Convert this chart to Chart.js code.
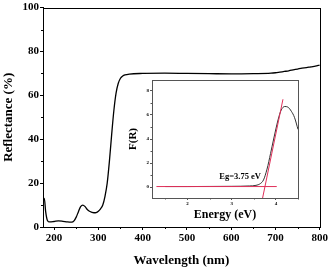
<!DOCTYPE html>
<html><head><meta charset="utf-8">
<script src="https://cdn.jsdelivr.net/npm/chart.js@4"></script>
<style>
html,body{margin:0;padding:0;background:#fff;}
#wrap{position:relative;width:330px;height:271px;}
#main{position:absolute;left:0;top:0;}
#inset{position:absolute;left:120px;top:70px;}
</style></head>
<body><div id="wrap"><canvas id="main" width="330" height="271"></canvas><canvas id="inset" width="190" height="160"></canvas></div>
<script>
// Main spectrum
const wavelength = [175,178,181,185,190,200,210,220,230,240,245,250,255,260,265,270,275,280,290,295,300,305,310,315,320,325,330,335,340,345,350,355,360,370,400,450,500,550,600,650,690,700,710,720,730,740,750,760,770,780,790,800];
const reflectance = [12,13,7,3,2.3,2.5,2.8,2.6,2.3,2.2,2.8,4.5,7,9.3,10,9.3,8,7.2,6.5,6.6,7.2,8.3,10,14,20,30,42,53,61,65.5,67.8,68.8,69.3,69.7,70.0,70.1,70.0,69.9,69.8,69.9,70.1,70.3,70.6,70.9,71.2,71.6,72.0,72.4,72.6,73.0,73.3,73.8];
const xTicksMain = [200,300,400,500,600,700,800];
const yTicksMain = [0,20,40,60,80,100];
// Inset Kubelka-Munk
const energy = [1.5,2.0,2.5,3.0,3.4,3.55,3.65,3.72,3.8,3.88,3.95,4.05,4.12,4.2,4.27,4.35,4.42,4.5];
const fR = [0.05,0.05,0.06,0.07,0.1,0.15,0.3,0.6,1.5,2.8,4.0,5.6,6.4,6.7,6.65,6.3,5.8,4.8];
const fitX = [3.70,4.16];
const fitY = [-0.9,7.3];
const baseX = [1.3,4.02];
const baseY = [0.05,0.05];
const xTicksInset = [2,3,4];
const yTicksInset = [0,2,4,6,8];
const egLabel = 'Eg=3.75 eV';

const SERIF = '"Liberation Serif","Times New Roman",serif';
const pts = (xs, ys) => xs.map((x, i) => ({x, y: ys[i]}));
const setTicks = arr => s => { s.ticks = arr.map(v => ({value: v})); };
const shiftTitle = (s, dx, dy) => {
  if (s._shiftPatched) return;
  const orig = s._drawTitle;
  s._drawTitle = function () { this.ctx.save(); this.ctx.translate(dx, dy); orig.call(this); this.ctx.restore(); };
  s._shiftPatched = true;
};

const frame = {
  id: 'frame',
  afterDraw(c, a, o) {
    const {ctx, chartArea: ca} = c;
    ctx.save();
    ctx.strokeStyle = o.color; ctx.lineWidth = 1;
    ctx.strokeRect(Math.round(ca.left) + 0.5, Math.round(ca.top) + 0.5, Math.round(ca.right - ca.left), Math.round(ca.bottom - ca.top));
    const xs = c.scales.x, ys = c.scales.y;
    ctx.beginPath();
    (o.xMinor || []).forEach(v => { const p = Math.round(xs.getPixelForValue(v)) + 0.5; ctx.moveTo(p, ca.bottom); ctx.lineTo(p, ca.bottom + o.minorLen); });
    (o.yMinor || []).forEach(v => { const p = Math.round(ys.getPixelForValue(v)) + 0.5; ctx.moveTo(ca.left, p); ctx.lineTo(ca.left - o.minorLen, p); });
    ctx.stroke();
    if (o.label) {
      ctx.fillStyle = '#000';
      ctx.font = o.label.font;
      ctx.textBaseline = 'middle';
      ctx.fillText(o.label.text, xs.getPixelForValue(o.label.x), ys.getPixelForValue(o.label.y));
    }
    ctx.restore();
  },
  beforeDraw(c, a, o) {
    if (o.bg) { const {ctx, chartArea: ca} = c; ctx.save(); ctx.fillStyle = o.bg; ctx.fillRect(ca.left, ca.top, ca.right - ca.left, ca.bottom - ca.top); ctx.restore(); }
  }
};

new Chart(document.getElementById('main'), {
  type: 'line',
  data: {datasets: [{data: pts(wavelength, reflectance), borderColor: '#000', borderWidth: 1.3, pointRadius: 0, cubicInterpolationMode: 'monotone'}]},
  options: {
    responsive: false, animation: false, devicePixelRatio: 1,
    layout: {padding: {top: 7, right: 10, left: 0, bottom: 0}},
    plugins: {legend: {display: false}, tooltip: {enabled: false},
      frame: {color: '#000', minorLen: 2, xMinor: [250,350,450,550,650,750], yMinor: [10,30,50,70,90]}},
    scales: {
      x: {type: 'linear', min: 175, max: 800,
        afterBuildTicks: setTicks(xTicksMain), afterFit: s => { s.height = 44; shiftTitle(s, 8, 0); },
        grid: {drawOnChartArea: false, tickLength: 3, color: '#000'}, border: {color: '#000'},
        ticks: {color: '#000', padding: 2, maxRotation: 0, font: {family: SERIF, size: 11, weight: 'bold'}},
        title: {display: true, text: 'Wavelength (nm)', color: '#000', padding: {top: 0, bottom: 3}, font: {family: SERIF, size: 13, weight: 'bold'}}},
      y: {min: 0, max: 100,
        afterBuildTicks: setTicks(yTicksMain), afterFit: s => { s.width = 43; shiftTitle(s, 0, -3); },
        grid: {drawOnChartArea: false, tickLength: 3, color: '#000'}, border: {color: '#000'},
        ticks: {color: '#000', padding: 1, font: {family: SERIF, size: 11, weight: 'bold'}},
        title: {display: true, text: 'Reflectance (%)', color: '#000', padding: {top: 1, bottom: 0}, font: {family: SERIF, size: 13, weight: 'bold'}}}
    }
  },
  plugins: [frame]
});

new Chart(document.getElementById('inset'), {
  type: 'line',
  data: {datasets: [
    {data: pts(baseX, baseY), borderColor: '#e0305a', borderWidth: 1, pointRadius: 0},
    {data: pts(fitX, fitY), borderColor: '#e0305a', borderWidth: 1, pointRadius: 0},
    {data: pts(energy, fR), borderColor: '#333', borderWidth: 1, pointRadius: 0, cubicInterpolationMode: 'monotone'}
  ]},
  options: {
    responsive: false, animation: false, devicePixelRatio: 1,
    layout: {padding: {top: 10, right: 12, left: 0, bottom: 0}},
    plugins: {legend: {display: false}, tooltip: {enabled: false},
      frame: {color: '#555', bg: '#fff', minorLen: 1.5, xMinor: [1.5,2.5,3.5,4.5], yMinor: [1,3,5,7],
        label: {text: egLabel, x: 2.72, y: 0.85, font: 'bold 8.5px ' + SERIF}}},
    scales: {
      x: {type: 'linear', min: 1.2, max: 4.5,
        afterBuildTicks: setTicks(xTicksInset), afterFit: s => { s.height = 32; },
        grid: {drawOnChartArea: false, tickLength: 2, color: '#555'}, border: {color: '#555'},
        ticks: {color: '#000', padding: 1, maxRotation: 0, font: {family: SERIF, size: 5, weight: 'bold'}},
        title: {display: true, text: 'Energy (eV)', color: '#000', padding: {top: 0, bottom: 8}, font: {family: SERIF, size: 12, weight: 'bold'}}},
      y: {min: -0.9, max: 8.9,
        afterBuildTicks: setTicks(yTicksInset), afterFit: s => { s.width = 32; },
        grid: {drawOnChartArea: false, tickLength: 2, color: '#555'}, border: {color: '#555'},
        ticks: {color: '#000', padding: 1, font: {family: SERIF, size: 5, weight: 'bold'}},
        title: {display: true, text: 'F(R)', color: '#000', padding: {top: 7, bottom: 0}, font: {family: SERIF, size: 11, weight: 'bold'}}}
    }
  },
  plugins: [frame]
});
</script></body></html>
